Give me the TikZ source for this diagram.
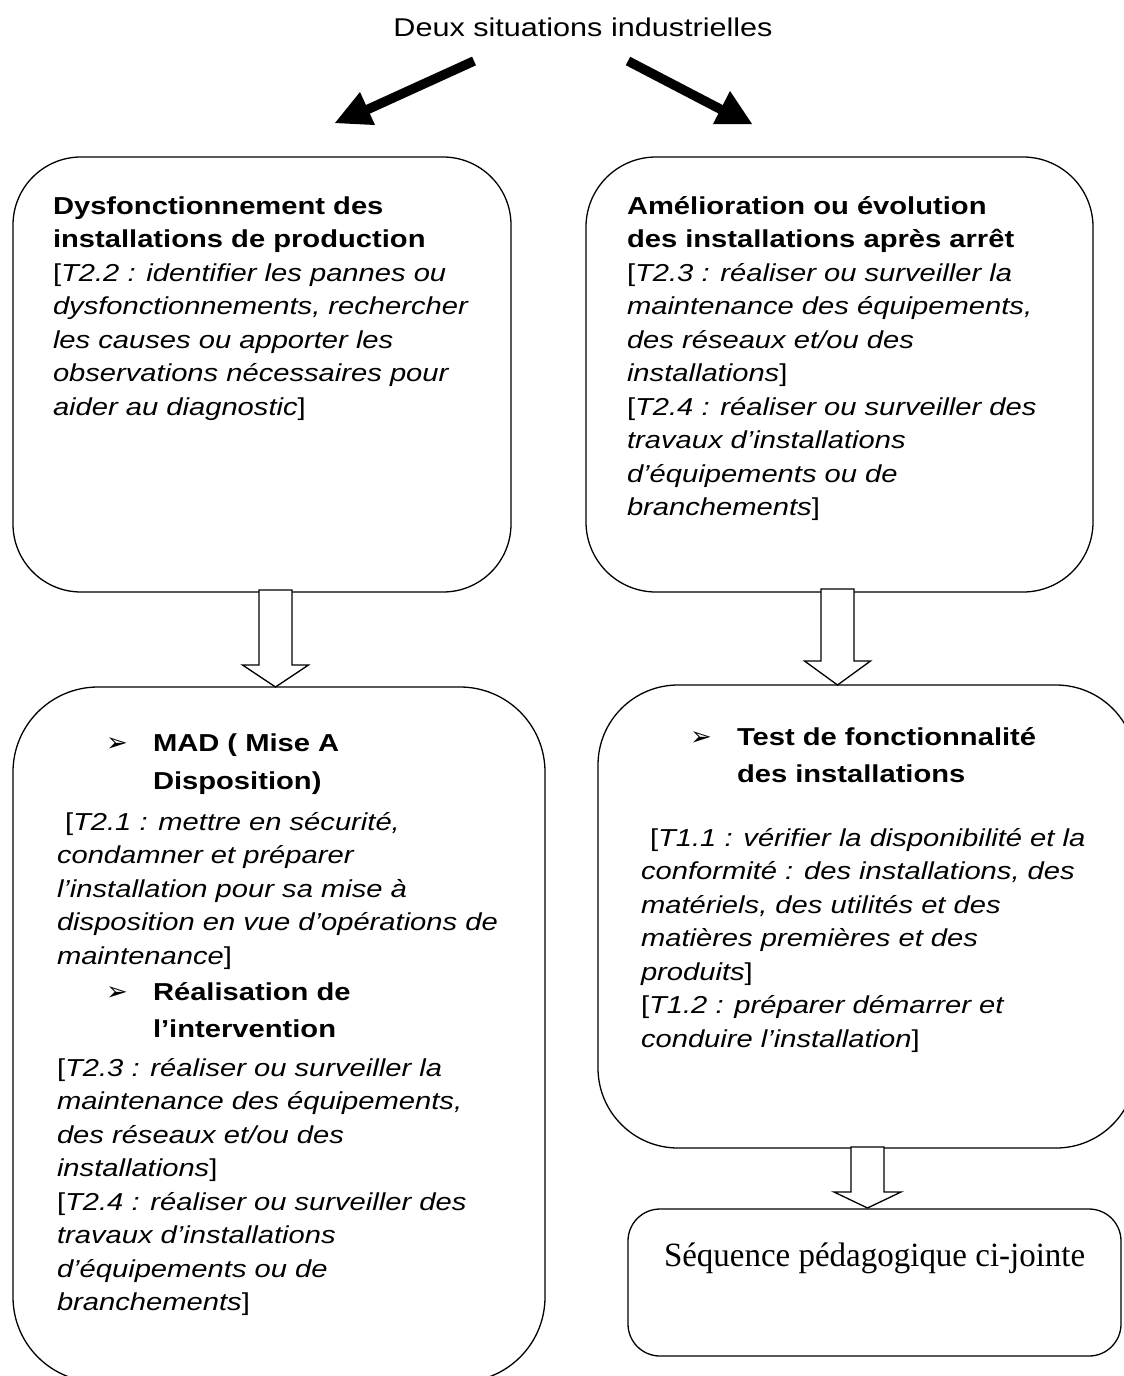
\documentclass[tikz,border=0pt]{standalone}
\usepackage{fontspec}
\setmainfont{Liberation Sans}[FakeStretch=1.19]
\newfontfamily\serifE{Liberation Serif}[FakeStretch=0.97]
\newfontfamily\dejavu{DejaVu Sans}
\usetikzlibrary{calc}
\begin{document}
\begin{tikzpicture}[x=1pt,y=-1pt,
  roundbox/.style={draw, line width=1.3pt, inner sep=0pt, outer sep=0pt},
  txt/.style={inner sep=0pt, outer sep=0pt, anchor=base west, font=\fontsize{24.5}{33.5}\selectfont},
  bullet/.style={inner sep=0pt, outer sep=0pt, anchor=base west, font=\dejavu\fontsize{26}{28}\selectfont},
  blockarrow/.style={draw, fill=white, line width=1.3pt, line join=miter},
  thickline/.style={line width=9.5pt},
  headfill/.style={fill=black}]
\useasboundingbox (0,0) rectangle (1124,1376);
\fill[white] (0,0) rectangle (1124,1376);

% title
\node[txt, anchor=base, font=\fontsize{25.7}{30}\selectfont] (title) at (583,36) {Deux situations industrielles};

% thick arrows
\coordinate (la0) at (474,61);
\coordinate (la1) at (362,112);
\coordinate (lh1) at (335,123);
\coordinate (lh2) at (360,92);
\coordinate (lh3) at (375,125);
\draw[thickline] (la0) -- (la1);
\fill[headfill] (lh1) -- (lh2) -- (lh3) -- cycle;
\coordinate (ra0) at (628,61);
\coordinate (ra1) at (722,110);
\coordinate (rh1) at (752,124);
\coordinate (rh2) at (730,91);
\coordinate (rh3) at (713,124);
\draw[thickline] (ra0) -- (ra1);
\fill[headfill] (rh1) -- (rh2) -- (rh3) -- cycle;

% boxes
\node[roundbox, rounded corners=68pt, minimum width=498pt, minimum height=435pt] (A) at (262,374.5) {};
\node[roundbox, rounded corners=70pt, minimum width=507pt, minimum height=435pt] (B) at (839.5,374.5) {};
\node[roundbox, rounded corners=85pt, minimum width=532pt, minimum height=695pt] (C) at (279,1034.5) {};
\node[roundbox, rounded corners=80pt, minimum width=538pt, minimum height=463pt] (D) at (867,916.5) {};
\node[roundbox, rounded corners=32pt, minimum width=493pt, minimum height=147pt] (E) at (874.5,1282.5) {};

% block arrows
\coordinate (ar1top) at (275.5,590);
\coordinate (ar1tip) at (275.5,687);
\draw[blockarrow] ($(ar1top)+(-16.5,0)$) -- ($(ar1top)+(16.5,0)$) -- ($(ar1tip)+(16.5,-22)$) -- ($(ar1tip)+(33,-22)$) -- (ar1tip) -- ($(ar1tip)+(-33,-22)$) -- ($(ar1tip)+(-16.5,-22)$) -- cycle;
\coordinate (ar2top) at (837.5,589);
\coordinate (ar2tip) at (837.5,685);
\draw[blockarrow] ($(ar2top)+(-16.5,0)$) -- ($(ar2top)+(16.5,0)$) -- ($(ar2tip)+(16.5,-24)$) -- ($(ar2tip)+(33,-24)$) -- (ar2tip) -- ($(ar2tip)+(-33,-24)$) -- ($(ar2tip)+(-16.5,-24)$) -- cycle;
\coordinate (ar3top) at (867.5,1147);
\coordinate (ar3tip) at (867.5,1208);
\draw[blockarrow] ($(ar3top)+(-16.5,0)$) -- ($(ar3top)+(16.5,0)$) -- ($(ar3tip)+(16.5,-16)$) -- ($(ar3tip)+(33.5,-16)$) -- (ar3tip) -- ($(ar3tip)+(-33.5,-16)$) -- ($(ar3tip)+(-16.5,-16)$) -- cycle;

% box A text
\node[txt] (Atext) at (53,214) {\begin{tabular}[t]{@{}l@{}}
\textbf{Dysfonctionnement des}\\
\textbf{installations de production}\\
{[}\textit{T2.2 : identifier les pannes ou}\\
\textit{dysfonctionnements, rechercher}\\
\textit{les causes ou apporter les}\\
\textit{observations nécessaires pour}\\
\textit{aider au diagnostic}]
\end{tabular}};

% box B text
\node[txt] (Btext) at (627,214) {\begin{tabular}[t]{@{}l@{}}
\textbf{Amélioration ou évolution}\\
\textbf{des installations après arrêt}\\
{[}\textit{T2.3 : réaliser ou surveiller la}\\
\textit{maintenance des équipements,}\\
\textit{des réseaux et/ou des}\\
\textit{installations}]\\
{[}\textit{T2.4 : réaliser ou surveiller des}\\
\textit{travaux d’installations}\\
\textit{d’équipements ou de}\\
\textit{branchements}]
\end{tabular}};

% box C text
\node[bullet] (Cb1) at (106,751) {➢};
\node[txt] (Ch1) at (153,751) {\begin{tabular}[t]{@{}l@{}}
\textbf{MAD ( Mise A}\\[4.5pt]
\textbf{Disposition)}
\end{tabular}};
\node[txt] (Ci1) at (57,830) {\begin{tabular}[t]{@{}l@{}}
\hspace*{8pt}{[}\textit{T2.1 : mettre en sécurité,}\\
\textit{condamner et préparer}\\
\textit{l’installation pour sa mise à}\\
\textit{disposition en vue d’opérations de}\\
\textit{maintenance}]
\end{tabular}};
\node[bullet] (Cb2) at (106,1000) {➢};
\node[txt] (Ch2) at (153,1000) {\begin{tabular}[t]{@{}l@{}}
\textbf{Réalisation de}\\[3.5pt]
\textbf{l’intervention}
\end{tabular}};
\node[txt] (Ci2) at (57,1076) {\begin{tabular}[t]{@{}l@{}}
{[}\textit{T2.3 : réaliser ou surveiller la}\\
\textit{maintenance des équipements,}\\
\textit{des réseaux et/ou des}\\
\textit{installations}]\\
{[}\textit{T2.4 : réaliser ou surveiller des}\\
\textit{travaux d’installations}\\
\textit{d’équipements ou de}\\
\textit{branchements}]
\end{tabular}};

% box D text
\node[bullet] (Db1) at (690,745) {➢};
\node[txt] (Dh1) at (737,745) {\begin{tabular}[t]{@{}l@{}}
\textbf{Test de fonctionnalité}\\[3.5pt]
\textbf{des installations}
\end{tabular}};
\node[txt] (Di1) at (641,846) {\begin{tabular}[t]{@{}l@{}}
\hspace*{9pt}{[}\textit{T1.1 : vérifier la disponibilité et la}\\
\textit{conformité : des installations, des}\\
\textit{matériels, des utilités et des}\\
\textit{matières premières et des}\\
\textit{produits}]\\
{[}\textit{T1.2 : préparer démarrer et}\\
\textit{conduire l’installation}]
\end{tabular}};

% box E text
\node[txt, font=\serifE\fontsize{34}{40}\selectfont] (Etext) at (664,1266) {Séquence pédagogique ci-jointe};
\end{tikzpicture}
\end{document}
